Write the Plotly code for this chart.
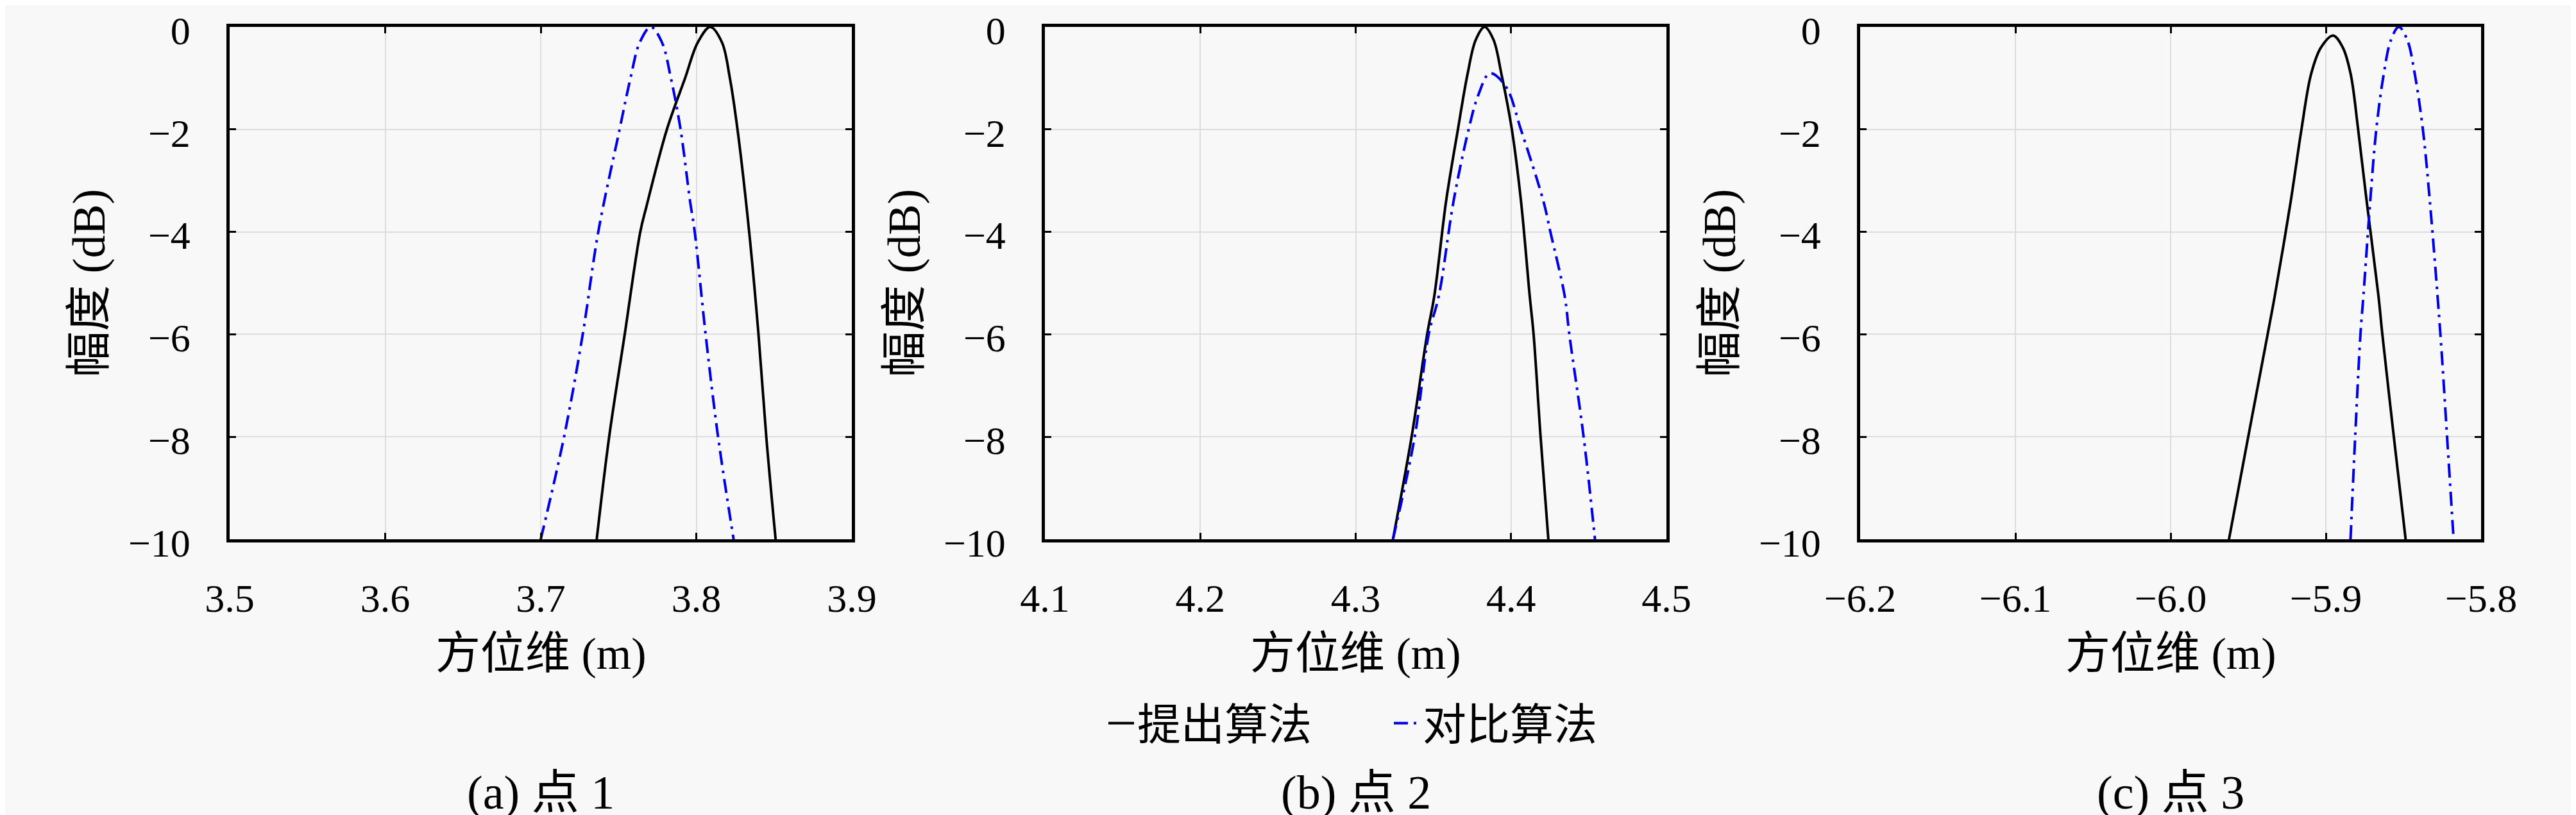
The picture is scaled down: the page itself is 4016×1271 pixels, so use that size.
import plotly.graph_objects as go

# 点 1
p1_x_prop = [3.736, 3.744, 3.754, 3.764, 3.768, 3.7811, 3.7928, 3.801, 3.809, 3.8165, 3.8216, 3.8265, 3.834, 3.840, 3.845, 3.851]
p1_y_prop = [-10, -8, -6, -4, -3.5, -2, -1, -0.3, 0, -0.3, -1, -2, -4, -6, -8, -10]
p1_x_comp = [3.700, 3.715, 3.727, 3.737, 3.7507, 3.7577, 3.7637, 3.7708, 3.7779, 3.7837, 3.7899, 3.796, 3.799, 3.806, 3.814, 3.824]
p1_y_comp = [-10, -8, -6, -4, -2, -1, -0.3, 0, -0.3, -1, -2, -3.4, -4, -6, -8, -10]

# 点 2
p2_x_prop = [4.324, 4.336, 4.346, 4.3506, 4.3582, 4.3658, 4.372, 4.3773, 4.383, 4.3887, 4.3938, 4.4005, 4.4064, 4.412, 4.4145, 4.419, 4.424]
p2_y_prop = [-10, -8, -6, -5.25, -3.4, -2, -0.92, -0.25, 0, -0.25, -0.92, -2, -3.4, -5.25, -6, -8, -10]
p2_x_comp = [4.324, 4.338, 4.347, 4.3535, 4.363, 4.3727, 4.3789, 4.3864, 4.3966, 4.4063, 4.4208, 4.4253, 4.4345, 4.4375, 4.4467, 4.454]
p2_y_comp = [-10, -8, -6, -5.25, -3.4, -2, -1.33, -0.905, -1.16, -2, -3.4, -4, -5.25, -6, -8, -10]

# 点 3
p3_x_prop = [-5.9624, -5.950, -5.9375, -5.9329, -5.9226, -5.9157, -5.9095, -5.9031, -5.8953, -5.8891, -5.884, -5.8792, -5.8737, -5.8661, -5.8636, -5.8562, -5.8486]
p3_y_prop = [-10, -8, -6, -5.25, -3.4, -2, -0.92, -0.4, -0.17, -0.4, -0.92, -2, -3.4, -5.25, -6, -8, -10]
p3_x_comp = [-5.8841, -5.8811, -5.8777, -5.8758, -5.8714, -5.8675, -5.8627, -5.858, -5.853, -5.8476, -5.8427, -5.8375, -5.833, -5.8262, -5.8219, -5.8177]
p3_y_comp = [-10, -8, -6, -5.25, -3.4, -2, -0.92, -0.25, 0, -0.25, -0.92, -2, -3.4, -6, -8, -10]

x_ranges = [[3.5, 3.9], [4.1, 4.5], [-6.2, -5.8]]
x_ticks = [[3.5, 3.6, 3.7, 3.8, 3.9], [4.1, 4.2, 4.3, 4.4, 4.5], [-6.2, -6.1, -6.0, -5.9, -5.8]]
y_ticks = [0, -2, -4, -6, -8, -10]
captions = ['(a) 点 1', '(b) 点 2', '(c) 点 3']
names = ['提出算法', '对比算法']

panels = [
    (p1_x_prop, p1_y_prop, p1_x_comp, p1_y_comp),
    (p2_x_prop, p2_y_prop, p2_x_comp, p2_y_comp),
    (p3_x_prop, p3_y_prop, p3_x_comp, p3_y_comp),
]

W, H = 4016, 1271
bg = '#f8f8f8'
font_fam = 'Liberation Serif, Noto Sans CJK SC, serif'
x_domains = [[350 / W, 1320 / W], [1621 / W, 2590 / W], [2892 / W, 3860 / W]]
y_domain = [1 - 833 / H, 1 - 34 / H]

fig = go.Figure()
for i, (xa, ya, xb, yb) in enumerate(panels):
    sx = '' if i == 0 else str(i + 1)
    fig.add_trace(go.Scatter(x=xa, y=ya, mode='lines', name=names[0],
                             line=dict(color='black', width=4, shape='spline', smoothing=1.0),
                             xaxis='x' + sx, yaxis='y' + sx, showlegend=(i == 0)))
    fig.add_trace(go.Scatter(x=xb, y=yb, mode='lines', name=names[1],
                             line=dict(color='#0000e6', width=4, shape='spline', smoothing=1.0,
                                       dash='22px,9px,4px,9px'),
                             xaxis='x' + sx, yaxis='y' + sx, showlegend=(i == 0)))

layout = dict(
    width=W, height=H,
    margin=dict(l=0, r=0, t=0, b=0, autoexpand=False),
    paper_bgcolor=bg, plot_bgcolor=bg,
    font=dict(family=font_fam, size=62, color='black'),
    legend=dict(orientation='h', x=2160 / W, y=1 - 1120 / H, xanchor='center', yanchor='middle',
                font=dict(size=68), bgcolor='rgba(0,0,0,0)', entrywidth=390,
                itemwidth=40, tracegroupgap=0),
    annotations=[],
)

axis_common = dict(showline=True, linecolor='black', linewidth=4.5, mirror='ticks',
                   ticks='inside', ticklen=10, tickwidth=3, tickcolor='black',
                   showgrid=True, gridcolor='#dddddd', gridwidth=2, zeroline=False,
                   ticklabeloverflow='allow', automargin=False,
                   tickfont=dict(size=62, family=font_fam))

for i in range(3):
    sx = '' if i == 0 else str(i + 1)
    layout['xaxis' + sx] = dict(axis_common, domain=x_domains[i], range=x_ranges[i],
                                tickvals=x_ticks[i], tickformat='.1f', anchor='y' + sx,
                                ticklabelstandoff=34)
    layout['yaxis' + sx] = dict(axis_common, domain=y_domain, range=[-10, 0],
                                tickvals=y_ticks, anchor='x' + sx, ticklabelstandoff=44,
                                ticklabelshift=5)
    layout['annotations'] += [
        dict(text='方位维 (m)', xref='x' + sx + ' domain', yref='y' + sx + ' domain',
             x=0.5, y=0, yshift=-178, showarrow=False, xanchor='center', yanchor='middle',
             font=dict(size=70)),
        dict(text='幅度 (dB)', xref='x' + sx + ' domain', yref='y' + sx + ' domain',
             x=0, y=0.5, xshift=-220, showarrow=False, textangle=-90,
             xanchor='center', yanchor='middle', font=dict(size=72)),
        dict(text=captions[i], xref='x' + sx + ' domain', yref='paper',
             x=0.5, y=1 - 1228 / H, showarrow=False, xanchor='center', yanchor='middle',
             font=dict(size=74)),
    ]

fig.update_layout(**layout)
fig.write_html('out.html')
